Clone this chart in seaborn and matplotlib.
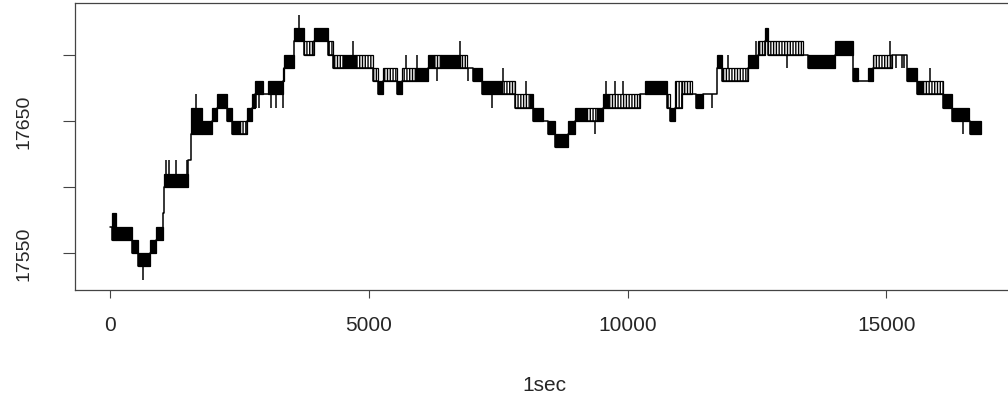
import numpy as np
import pandas as pd
import matplotlib
matplotlib.use('Agg')
import matplotlib.pyplot as plt
import seaborn as sns

# price path, as runs between two adjacent price levels
# (start sec, end sec, low price, high price, solid flicker 1 / sparse flicker 0)
seg_start = [0, 35, 106, 422, 540, 764, 880, 1010, 1025, 1040, 1505, 1550, 1764, 1969,
             2054, 2259, 2356, 2500, 2646, 2742, 2800, 2955, 3040, 3342, 3361, 3555,
             3748, 3941, 4212, 4309, 4500, 4750, 5083, 5179, 5276, 5535, 5632, 5900,
             6146, 6250, 6400, 6759, 6889, 7017, 7179, 7566, 7823, 8113, 8165, 8370,
             8467, 8597, 8854, 8983, 9200, 9402, 9519, 9627, 10240, 10337, 10757,
             10820, 10917, 11047, 11240, 11323, 11465, 11724, 11820, 12335, 12528,
             12658, 12722, 13399, 13495, 14012, 14366, 14450, 14650, 14753, 15110,
             15400, 15592, 15700, 16106, 16269, 16590, 16623]
seg_end = seg_start[1:] + [16830]
seg_low = [17570, 17560, 17560, 17550, 17540, 17550, 17560, 17580, 17590, 17600, 17620,
           17640, 17640, 17650, 17660, 17650, 17640, 17640, 17650, 17660, 17670, 17670,
           17670, 17680, 17690, 17710, 17700, 17710, 17700, 17690, 17690, 17690, 17680,
           17670, 17680, 17670, 17680, 17680, 17690, 17690, 17690, 17690, 17690, 17680,
           17670, 17670, 17660, 17660, 17650, 17650, 17640, 17630, 17640, 17650, 17650,
           17650, 17660, 17660, 17670, 17670, 17660, 17650, 17660, 17670, 17670, 17660,
           17670, 17690, 17680, 17690, 17700, 17710, 17700, 17700, 17690, 17700, 17680,
           17680, 17680, 17690, 17700, 17680, 17670, 17670, 17660, 17650, 17650, 17640]
seg_high = [17570, 17580, 17570, 17560, 17550, 17560, 17570, 17580, 17590, 17610, 17620,
            17660, 17650, 17660, 17670, 17660, 17650, 17650, 17660, 17670, 17680, 17670,
            17680, 17690, 17700, 17720, 17710, 17720, 17710, 17700, 17700, 17700, 17690,
            17680, 17690, 17680, 17690, 17690, 17700, 17700, 17700, 17700, 17690, 17690,
            17680, 17680, 17670, 17670, 17660, 17650, 17650, 17640, 17650, 17660, 17660,
            17660, 17670, 17670, 17670, 17680, 17670, 17660, 17680, 17680, 17670, 17670,
            17670, 17700, 17690, 17700, 17710, 17720, 17710, 17700, 17700, 17710, 17690,
            17680, 17690, 17700, 17700, 17690, 17680, 17680, 17670, 17660, 17650, 17650]
seg_solid = [0, 1, 1, 1, 1, 1, 1, 0, 0, 1, 0, 1, 1, 1, 1, 1, 1, 0, 1, 1, 1, 0, 1, 0, 1, 1,
             0, 1, 0, 0, 1, 0, 0, 1, 0, 1, 0, 1, 1, 0, 1, 0, 0, 1, 1, 0, 0, 1, 1, 0, 1, 1,
             1, 1, 0, 1, 1, 0, 0, 1, 0, 1, 0, 0, 0, 1, 0, 1, 0, 1, 0, 1, 0, 0, 1, 1, 1, 0,
             1, 0, 0, 1, 1, 0, 1, 1, 0, 1]

# single one-tick excursions
spike_t = [634, 1067, 1131, 1266, 1480, 1650, 2810, 2870, 3104, 3195, 3326, 3645, 4696,
           5715, 5933, 6309, 6765, 6920, 7372, 7597, 8030, 9369, 9583, 9757, 9906, 11633,
           11936, 12484, 13078, 15077, 15190, 15300, 15350, 15849, 16482]
spike_from = [17540, 17610, 17610, 17610, 17610, 17660, 17670, 17670, 17670, 17670, 17670,
              17720, 17700, 17690, 17690, 17690, 17700, 17690, 17670, 17680, 17670, 17650,
              17670, 17670, 17670, 17670, 17690, 17700, 17700, 17700, 17700, 17700, 17700,
              17680, 17650]
spike_to = [17530, 17620, 17620, 17620, 17620, 17670, 17660, 17660, 17660, 17660, 17660,
            17730, 17710, 17700, 17700, 17680, 17710, 17680, 17660, 17690, 17680, 17640,
            17680, 17680, 17680, 17660, 17700, 17710, 17690, 17710, 17690, 17690, 17690,
            17690, 17640]

x_ticks = [0, 5000, 10000, 15000]
y_ticks = [17550, 17600, 17650, 17700]
y_tick_labels = ['17550', '', '17650', '']


def main():
    sns.set_style('white')
    plt.rcParams['font.family'] = ['Liberation Sans', 'DejaVu Sans']
    plt.rcParams['hatch.linewidth'] = 1.0
    plt.rcParams['hatch.color'] = 'black'

    segs = pd.DataFrame({'start': seg_start, 'end': seg_end, 'low': seg_low,
                         'high': seg_high, 'solid': seg_solid})
    path = pd.DataFrame({'sec': seg_start + [seg_end[-1]],
                         'price': seg_low + [seg_low[-1]]})

    fig = plt.figure(figsize=(10.08, 4.02), dpi=100)
    ax = fig.add_axes([74.5 / 1008, 111.3 / 402, 940.5 / 1008, 286.4 / 402])

    sns.lineplot(data=path, x='sec', y='price', drawstyle='steps-post', color='black',
                 lw=1.1, estimator=None, sort=False, ax=ax)

    runs = segs[segs['high'] > segs['low']]
    dense = runs[runs['solid'] == 1]
    sparse = runs[runs['solid'] == 0]
    ax.bar(dense['start'], dense['high'] - dense['low'], width=dense['end'] - dense['start'],
           bottom=dense['low'], align='edge', color='black', edgecolor='black', lw=0.9)
    ax.bar(sparse['start'], sparse['high'] - sparse['low'], width=sparse['end'] - sparse['start'],
           bottom=sparse['low'], align='edge', facecolor='none', edgecolor='black',
           hatch='||||||', lw=0.9)
    ax.vlines(spike_t, spike_from, spike_to, color='black', lw=1.1)

    ax.set_xlim(-696, 17489)
    ax.set_ylim(17522.3, 17738.8)
    ax.set_xticks(x_ticks)
    ax.set_xticklabels([str(v) for v in x_ticks], fontsize=15)
    ax.set_yticks(y_ticks)
    ax.set_yticklabels(y_tick_labels, fontsize=14, rotation=90, va='center')
    ax.tick_params(axis='x', bottom=True, direction='out', length=6, width=0.8,
                   color='#444444', pad=12)
    ax.tick_params(axis='y', left=True, direction='out', length=9, width=0.8,
                   color='#444444', pad=21)
    ax.set_xlabel('1sec', fontsize=15, labelpad=30)
    ax.set_ylabel('')
    for sp in ax.spines.values():
        sp.set_color('#444444')
        sp.set_linewidth(0.9)

    fig.savefig('out.png', dpi=100)
    plt.close(fig)


if __name__ == '__main__':
    main()
